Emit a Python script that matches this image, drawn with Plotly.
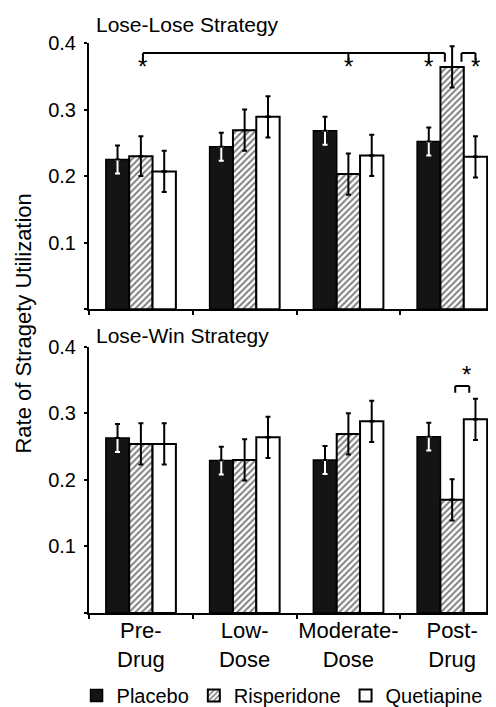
import plotly.graph_objects as go

# ---------------- data ----------------
categories = ["Pre-<br>Drug", "Low-<br>Dose", "Moderate-<br>Dose", "Post-<br>Drug"]
series_names = ["Placebo", "Risperidone", "Quetiapine"]

lose_lose_placebo = [0.225, 0.244, 0.268, 0.252]
lose_lose_risperidone = [0.230, 0.269, 0.203, 0.364]
lose_lose_quetiapine = [0.207, 0.289, 0.231, 0.229]
lose_lose_placebo_err = [0.021, 0.021, 0.021, 0.021]
lose_lose_risperidone_err = [0.030, 0.031, 0.031, 0.031]
lose_lose_quetiapine_err = [0.031, 0.031, 0.031, 0.031]

lose_win_placebo = [0.263, 0.229, 0.230, 0.265]
lose_win_risperidone = [0.254, 0.230, 0.269, 0.170]
lose_win_quetiapine = [0.254, 0.264, 0.288, 0.291]
lose_win_placebo_err = [0.021, 0.021, 0.021, 0.021]
lose_win_risperidone_err = [0.031, 0.031, 0.031, 0.031]
lose_win_quetiapine_err = [0.031, 0.031, 0.031, 0.031]

y_ticks = [0, 0.1, 0.2, 0.3, 0.4]
y_tick_labels = ["", "0.1", "0.2", "0.3", "0.4"]

FONT = "Liberation Sans, Arial, Helvetica, sans-serif"
BAR_W = 0.225
OFFSETS = [-1.5 * BAR_W, -0.5 * BAR_W, 0.5 * BAR_W]
idx = list(range(len(categories)))


def centers(k):
    return [i + OFFSETS[k] + BAR_W / 2 for i in idx]


fig = go.Figure()

panels = [
    ("x", "y", [lose_lose_placebo, lose_lose_risperidone, lose_lose_quetiapine],
     [lose_lose_placebo_err, lose_lose_risperidone_err, lose_lose_quetiapine_err], True),
    ("x2", "y2", [lose_win_placebo, lose_win_risperidone, lose_win_quetiapine],
     [lose_win_placebo_err, lose_win_risperidone_err, lose_win_quetiapine_err], False),
]

for xa, ya, vals, errs, show in panels:
    styles = [
        dict(color="#141414", line=dict(color="black", width=1.5)),
        dict(color="white", line=dict(color="black", width=2),
             pattern=dict(shape="/", fgcolor="black", bgcolor="white", size=4.5, solidity=0.45)),
        dict(color="white", line=dict(color="black", width=2)),
    ]
    for k in range(3):
        fig.add_trace(go.Bar(
            x=idx, y=vals[k], width=BAR_W, offset=OFFSETS[k],
            marker=styles[k], name=series_names[k], legendgroup=series_names[k],
            showlegend=show, xaxis=xa, yaxis=ya,
        ))
    # error bars
    for k in range(3):
        xc = centers(k)
        lower_color = "white" if k == 0 else "black"
        fig.add_trace(go.Scatter(
            x=xc, y=vals[k], mode="markers", marker=dict(size=1, color="rgba(0,0,0,0)"),
            error_y=dict(type="data", symmetric=False, array=[0] * 4, arrayminus=errs[k],
                         color=lower_color, thickness=2, width=2.5),
            showlegend=False, hoverinfo="skip", xaxis=xa, yaxis=ya,
        ))
        fig.add_trace(go.Scatter(
            x=xc, y=vals[k], mode="markers", marker=dict(size=1, color="rgba(0,0,0,0)"),
            error_y=dict(type="data", symmetric=False, array=errs[k], arrayminus=[0] * 4,
                         color="black", thickness=2, width=2.5),
            showlegend=False, hoverinfo="skip", xaxis=xa, yaxis=ya,
        ))

# ---------------- significance brackets ----------------
pl, ri, qu = centers(0), centers(1), centers(2)
shapes = []
annotations = []
STAR_FONT = dict(size=24, family=FONT, color="black")


def seg(xref, yref, x0, y0, x1, y1):
    shapes.append(dict(type="line", xref=xref, yref=yref, x0=x0, y0=y0, x1=x1, y1=y1,
                       line=dict(color="black", width=2)))


# top panel: big bracket
top_level, top_leg = 0.385, 0.372
big_legs = [ri[0] + 0.02, ri[2], pl[3], ri[3] - 0.07]
seg("x", "y", big_legs[0], top_level, big_legs[-1], top_level)
for xv in big_legs:
    seg("x", "y", xv, top_level, xv, top_leg)
for xv in big_legs[:3]:
    annotations.append(dict(x=xv, y=top_leg, xref="x", yref="y", text="*", showarrow=False,
                            yanchor="top", yshift=11, font=STAR_FONT))
# top panel: small bracket
small_legs = [ri[3] + 0.09, qu[3]]
seg("x", "y", small_legs[0], top_level, small_legs[1], top_level)
for xv in small_legs:
    seg("x", "y", xv, top_level, xv, top_leg)
annotations.append(dict(x=small_legs[1], y=top_leg, xref="x", yref="y", text="*", showarrow=False,
                        yanchor="top", yshift=11, font=STAR_FONT))

# bottom panel bracket
b_level, b_leg = 0.341, 0.331
b_legs = [ri[3] + 0.03, qu[3] - 0.06]
seg("x2", "y2", b_legs[0], b_level, b_legs[1], b_level)
for xv in b_legs:
    seg("x2", "y2", xv, b_level, xv, b_leg)
annotations.append(dict(x=b_legs[1] - 0.03, y=b_level, xref="x2", yref="y2", text="*", showarrow=False,
                        yanchor="bottom", yshift=-4, font=STAR_FONT))

# panel titles
annotations.append(dict(x=0.012, y=1, xref="paper", yref="y domain", text="Lose-Lose Strategy",
                        showarrow=False, xanchor="left", yanchor="bottom", yshift=5,
                        font=dict(size=21, family=FONT, color="black")))
annotations.append(dict(x=0.012, y=1, xref="paper", yref="y2 domain", text="Lose-Win Strategy",
                        showarrow=False, xanchor="left", yanchor="bottom", yshift=-2,
                        font=dict(size=21, family=FONT, color="black")))
# y axis title
annotations.append(dict(x=-0.16, y=0.507, xref="paper", yref="paper",
                        text="Rate of Stragety Utilization", textangle=-90, showarrow=False,
                        xanchor="center", yanchor="middle",
                        font=dict(size=22, family=FONT, color="black")))

xaxis_common = dict(
    range=[-0.5, 3.5], showline=True, linecolor="black", linewidth=2, zeroline=False,
    showgrid=False, tickmode="array", tickvals=idx, ticks="", ticklen=0,
    minor=dict(tickmode="array", tickvals=[-0.5, 0.5, 1.5, 2.5], ticks="outside",
               ticklen=4, tickwidth=2, tickcolor="black", showgrid=False),
    tickfont=dict(size=22, family=FONT, color="black"), fixedrange=True,
)
yaxis_common = dict(
    range=[0, 0.4], showline=True, linecolor="black", linewidth=2, zeroline=False,
    showgrid=False, tickmode="array", tickvals=y_ticks, ticktext=y_tick_labels,
    ticks="outside", ticklen=3, tickwidth=2, tickcolor="black", ticklabelstandoff=4,
    tickfont=dict(size=20, family=FONT, color="black"), fixedrange=True,
)

fig.update_layout(
    width=496, height=707,
    margin=dict(l=81, r=0, t=35, b=94),
    plot_bgcolor="white", paper_bgcolor="white",
    barmode="overlay",
    font=dict(family=FONT, color="black"),
    xaxis=dict(xaxis_common, anchor="y", showticklabels=False),
    yaxis=dict(yaxis_common, domain=[0.533, 1], anchor="x"),
    xaxis2=dict(xaxis_common, anchor="y2", ticktext=categories, showticklabels=True,
                ticklabelstandoff=-3),
    yaxis2=dict(yaxis_common, domain=[0, 0.467], anchor="x2"),
    shapes=shapes,
    annotations=annotations,
    legend=dict(orientation="h", x=-0.03, xanchor="left", y=-0.145, yanchor="middle",
                font=dict(size=20, family=FONT, color="black"), bgcolor="rgba(0,0,0,0)",
                itemclick=False, itemdoubleclick=False),
    showlegend=True,
)

fig.write_html("out.html")
